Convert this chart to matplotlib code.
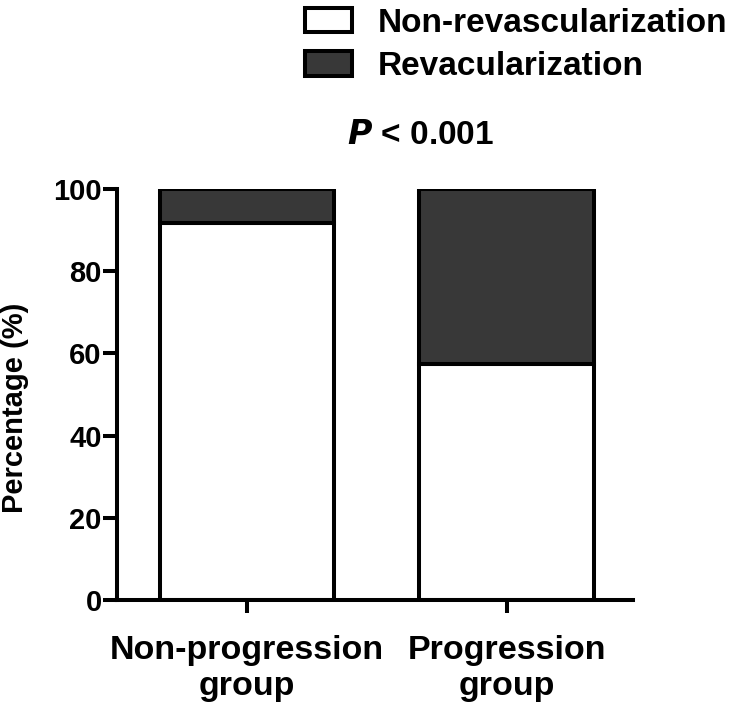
import numpy as np
import matplotlib.pyplot as plt
from matplotlib.patches import Patch

plt.rcParams['font.family'] = ['Liberation Sans', 'DejaVu Sans']
plt.rcParams['font.weight'] = 'bold'

groups = ["Non-progression\ngroup", "Progression\ngroup"]
non_revasc = [91.7, 57.4]
revasc = [8.3, 42.6]
series_names = ["Non-revascularization", "Revacularization"]

W, H = 733, 712
fig = plt.figure(figsize=(W / 100, H / 100), dpi=100)
ax = fig.add_axes([117 / W, 1 - 600 / H, (633 - 117) / W, (600 - 189) / H])

x = np.arange(len(groups))
lw = 2.9
dark = "#383838"
ax.bar(x, non_revasc, width=0.673, color="white", edgecolor="black", linewidth=lw)
ax.bar(x, revasc, bottom=non_revasc, width=0.673, color=dark,
       edgecolor="black", linewidth=lw)

ax.set_xlim(-0.5, 1.485)
ax.set_ylim(0, 100)
ax.set_yticks([0, 20, 40, 60, 80, 100])
ax.set_xticks(x)
ax.set_xticklabels(groups, fontsize=24.5, fontweight="bold", linespacing=1.2)
ax.tick_params(axis="y", labelsize=21, length=10, width=lw, direction="out", pad=1)
ax.tick_params(axis="x", length=9, width=lw, direction="out", pad=16)
for s in ["top", "right"]:
    ax.spines[s].set_visible(False)
for s in ["left", "bottom"]:
    ax.spines[s].set_linewidth(lw)

fig.text(15 / W, 1 - 408 / H, "Percentage (%)", fontsize=21, fontweight="bold",
         rotation=90, ha="center", va="center")

fig.text(421 / W, 1 - 136 / H, r"$\bf{\it{P}}$ < 0.001", fontsize=24,
         fontweight="bold", ha="center", va="center")

handles = [Patch(facecolor="white", edgecolor="black", linewidth=lw),
           Patch(facecolor=dark, edgecolor="black", linewidth=lw)]
fig.legend(handles, series_names, loc="upper right", bbox_to_anchor=(1.019, 1.017),
           frameon=False, prop={"size": 24, "weight": "bold"},
           handlelength=1.42, handleheight=0.75, handletextpad=0.75,
           labelspacing=0.37, borderaxespad=0.2)

fig.savefig("out.png", dpi=100)
